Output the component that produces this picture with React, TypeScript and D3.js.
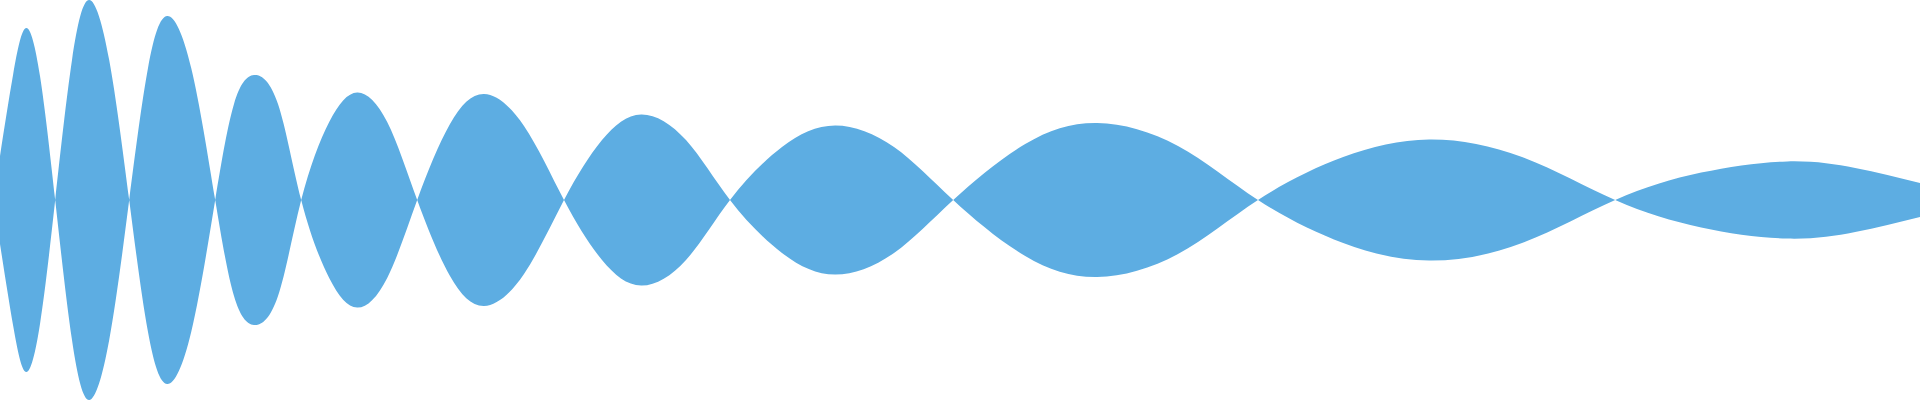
import { useEffect, useRef } from "react";
import * as d3 from "d3";

const WIDTH = 1920;
const HEIGHT = 400;
const FILL = "#5dade2";

// sample time (s) and signed amplitude
const TIMES = [
  0, 0.033, 0.065, 0.1, 0.138, 0.18, 0.223, 0.273, 0.323, 0.37, 0.418, 0.478, 0.538, 0.585, 0.635, 0.695, 0.753,
  0.823, 0.893, 0.968, 1.043, 1.125, 1.21, 1.31, 1.41, 1.505, 1.603, 1.715, 1.825, 1.955, 2.088, 2.235, 2.383, 2.563,
  2.743, 2.945, 3.145, 3.358, 3.573, 3.805, 4.038, 4.253, 4.468, 4.638, 4.8,
];
const VALUES = [
  0.22, 0.63, 0.86, 0.62, 0, -0.7, -1.0, -0.7, 0, 0.66, 0.92, 0.66, 0, -0.48, -0.625, -0.48, 0, 0.39, 0.538, 0.39, 0,
  -0.38, -0.53, -0.37, 0, 0.3, 0.428, 0.3, 0, -0.265, -0.373, -0.265, 0, 0.28, 0.385, 0.27, 0, -0.215, -0.303, -0.215,
  0, 0.137, 0.193, 0.16, 0.085,
];

type Sample = { time: number; value: number };

export default function App() {
  const svgRef = useRef<SVGSVGElement | null>(null);

  useEffect(() => {
    const svgEl = svgRef.current;
    if (!svgEl) return;
    const data: Sample[] = TIMES.map((time, i) => ({ time, value: VALUES[i] }));

    const x = d3.scaleLinear().domain([TIMES[0], TIMES[TIMES.length - 1]]).range([0, WIDTH]);
    const y = d3.scaleLinear().domain([-1, 1]).range([HEIGHT, 0]);

    const svg = d3.select(svgEl);
    svg.selectAll("*").remove();

    // mirrored band: upper edge at +value, lower edge at -value
    const area = d3
      .area<Sample>()
      .x((d) => x(d.time))
      .y0((d) => y(-d.value))
      .y1((d) => y(d.value))
      .curve(d3.curveNatural);

    svg.append("path").datum(data).attr("fill", FILL).attr("d", area);
  }, []);

  return (
    <svg
      ref={svgRef}
      width={WIDTH}
      height={HEIGHT}
      viewBox={`0 0 ${WIDTH} ${HEIGHT}`}
      style={{ position: "absolute", left: 0, top: 0, display: "block" }}
    />
  );
}
